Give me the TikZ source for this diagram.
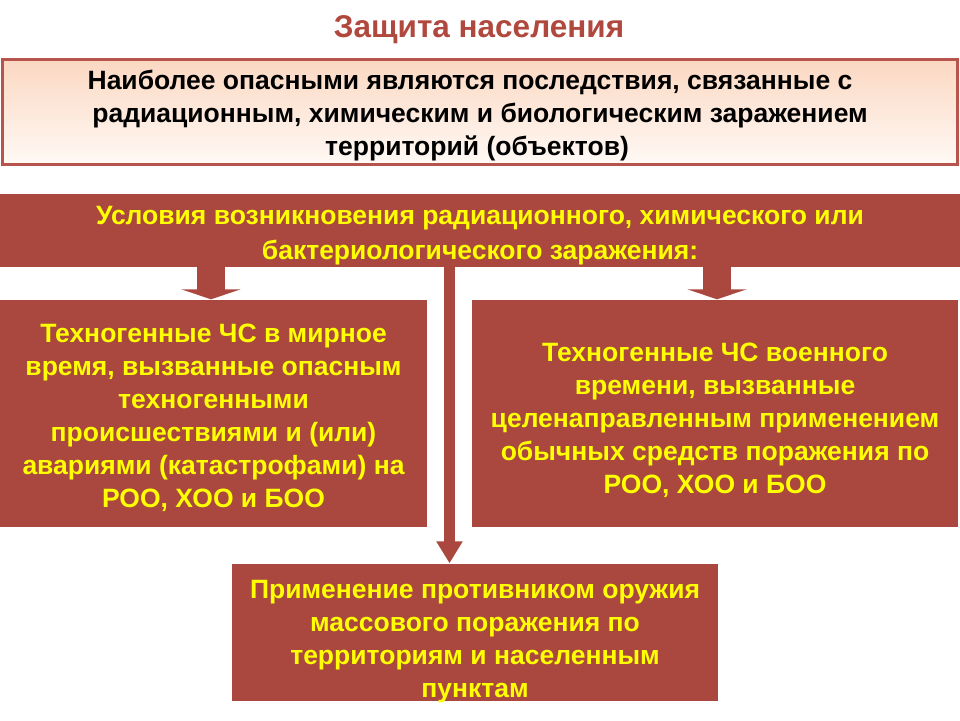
\documentclass[tikz,border=0pt]{standalone}
\usepackage{fontspec}
\setmainfont{Liberation Sans}
\usetikzlibrary{arrows.meta}
\definecolor{boxred}{RGB}{170,72,63}
\definecolor{titlered}{RGB}{176,72,62}
\definecolor{txtyellow}{RGB}{255,255,0}
\definecolor{peach}{RGB}{251,216,194}
\definecolor{peachlow}{RGB}{255,249,245}
\definecolor{frame}{RGB}{184,84,78}
\newcommand{\lowr}[1]{\rule{0pt}{#1}}
\tikzset{
  redbox/.style={fill=boxred, draw=none, inner sep=0pt, align=center,
    text=txtyellow, font=\fontsize{26.5}{33}\selectfont\bfseries},
  bigarrow/.style={draw=boxred, line width=28pt,
    -{Triangle[width=59pt,length=10pt]}},
  thinarrow/.style={draw=boxred, line width=10.5pt,
    -{Triangle[width=25pt,length=22pt]}},
}
\begin{document}
\begin{tikzpicture}[x=1pt,y=-1pt]
\useasboundingbox (0,0) rectangle (960,720);
% title
\node[text=titlered, font=\fontsize{31.5}{36}\selectfont\bfseries] (title) at (479,30) {Защита населения};
% box 1
\node[draw=frame, line width=3pt, top color=peach, bottom color=peachlow,
      minimum width=955pt, minimum height=105pt, inner xsep=0pt, inner ysep=-6pt, align=center,
      font=\fontsize{26.5}{33}\selectfont\bfseries] (b1) at (480,112)
  {\lowr{27pt}Наиболее опасными являются последствия, связанные с\hspace*{20pt}\\
   радиационным, химическим и биологическим заражением\\
   территорий (объектов)\hspace*{6pt}};
% box 2
\node[redbox, minimum width=960pt, minimum height=73pt, inner ysep=-6pt,
      font=\fontsize{26.5}{35}\selectfont\bfseries] (b2) at (480,230)
  {\lowr{29pt}Условия возникновения радиационного, химического или\\
   бактериологического заражения:};
% left box
\node[redbox, minimum width=427pt, minimum height=227pt, inner ysep=-6pt] (lb) at (213.5,413)
  {\lowr{29pt}Техногенные ЧС в мирное\\
   время, вызванные опасным\\
   техногенными\\
   происшествиями и (или)\\
   авариями (катастрофами) на\\
   РОО, ХОО и БОО};
% right box
\node[redbox, minimum width=486pt, minimum height=227pt, inner ysep=-6pt] (rb) at (715,413)
  {\lowr{33pt}Техногенные ЧС военного\\
   времени, вызванные\\
   целенаправленным применением\\
   обычных средств поражения по\\
   РОО, ХОО и БОО};
% bottom box
\node[redbox, minimum width=486pt, minimum height=137pt, inner ysep=-6pt] (bb) at (475,632)
  {\lowr{38pt}Применение противником оружия\\
   массового поражения по\\
   территориям и населенным\\
   пунктам};
% arrow positions
\coordinate (la) at (211,0);
\coordinate (ra) at (717,0);
\coordinate (ca) at (449.5,0);
\draw[bigarrow] (b2.south -| la) -- (lb.north -| la);
\draw[bigarrow] (b2.south -| ra) -- (rb.north -| ra);
\draw[thinarrow] (b2.south -| ca) -- (bb.north -| ca);
\end{tikzpicture}
\end{document}
